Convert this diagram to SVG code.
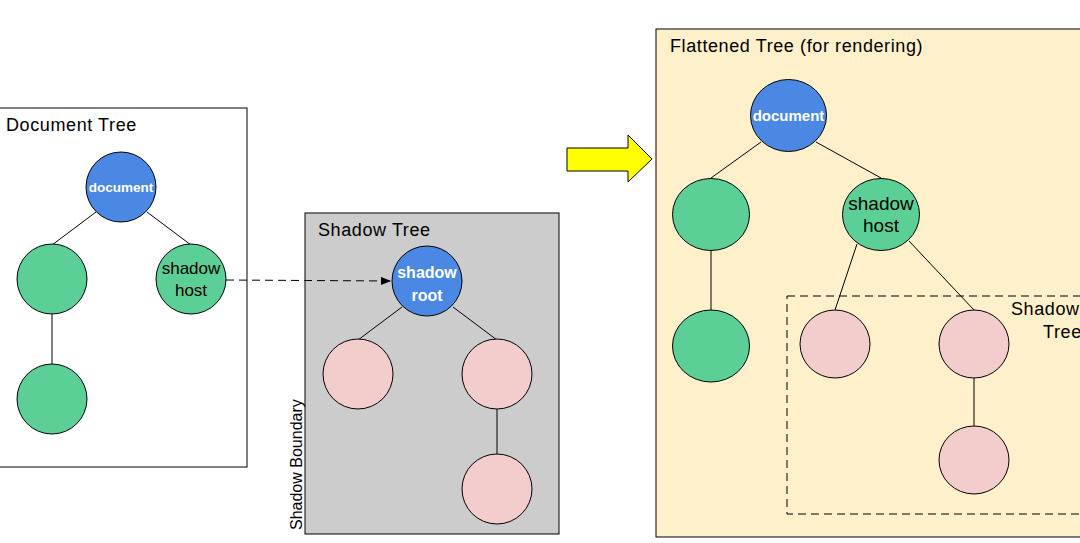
<svg xmlns="http://www.w3.org/2000/svg" width="1080" height="543" viewBox="0 0 1080 543">
<style>
text{font-family:"Liberation Sans",Arial,sans-serif;fill:#000}
.title{font-size:18px;letter-spacing:0.6px}
.lbl{font-size:17px;text-anchor:middle}
.lbl2{font-size:19px;text-anchor:middle}
.wlbl{font-size:13.5px;text-anchor:middle;fill:#fff;font-weight:bold}
.wlbl3{font-size:15px;text-anchor:middle;fill:#fff;font-weight:bold}
.wlbl2{font-size:16px;text-anchor:middle;fill:#fff;font-weight:bold}
.blue{fill:#4a88e4;stroke:#000;stroke-width:1}
.green{fill:#5ccf96;stroke:#000;stroke-width:1}
.pink{fill:#f3cccc;stroke:#000;stroke-width:1}
.edge{stroke:#000;stroke-width:1;fill:none}
</style>
<defs>
<marker id="ah" markerWidth="10" markerHeight="8" refX="10" refY="4" orient="auto" markerUnits="userSpaceOnUse">
<path d="M0,0 L10,4 L0,8 Z" fill="#000"/>
</marker>
</defs>
<g id="containers">
<rect x="-1" y="108" width="248" height="359" fill="#fff" stroke="#000"/>
<text class="title" x="6" y="131">Document Tree</text>
<rect x="305" y="213" width="254" height="321" fill="#cccccc" stroke="#000"/>
<text class="title" x="318" y="236">Shadow Tree</text>
<text x="302" y="530" font-size="16" transform="rotate(-90 302 530)">Shadow Boundary</text>
<rect x="656" y="29" width="440" height="508" fill="#fff0cc" stroke="#000"/>
<text class="title" x="670" y="52">Flattened Tree (for rendering)</text>
<rect x="787" y="296" width="310" height="218" fill="none" stroke="#000" stroke-dasharray="8,5"/>
<text class="title" x="1011" y="315">Shadow</text>
<text class="title" x="1043" y="338">Tree</text>
</g>
<g id="connectors">
<line class="edge" x1="96" y1="212" x2="52" y2="245"/>
<line class="edge" x1="147" y1="212" x2="191" y2="245"/>
<line class="edge" x1="52" y1="314" x2="52" y2="365"/>
<line class="edge" x1="402" y1="307" x2="358" y2="340"/>
<line class="edge" x1="453" y1="307" x2="497" y2="340"/>
<line class="edge" x1="497" y1="409" x2="497" y2="454"/>
<line class="edge" x1="226" y1="280" x2="391" y2="281" stroke-dasharray="8,5" marker-end="url(#ah)"/>
<line class="edge" x1="761" y1="142" x2="711" y2="178"/>
<line class="edge" x1="816" y1="142" x2="881" y2="178"/>
<line class="edge" x1="711" y1="251" x2="711" y2="310"/>
<line class="edge" x1="857" y1="244" x2="835" y2="310"/>
<line class="edge" x1="909" y1="241" x2="974" y2="310"/>
<line class="edge" x1="974" y1="378" x2="974" y2="426"/>
<path d="M567,148 L628,148 L628,135 L652,159 L628,182 L628,171 L567,171 Z" fill="#ffff00" stroke="#000" stroke-width="1"/>
</g>
<g id="doc-document"><circle class="blue" cx="121" cy="187" r="35"/><text class="wlbl" x="121" y="192">document</text></g>
<g id="doc-left"><circle class="green" cx="52" cy="279" r="35"/></g>
<g id="doc-host"><circle class="green" cx="191" cy="279" r="35"/><text class="lbl" x="191" y="274">shadow</text><text class="lbl" x="191" y="296">host</text></g>
<g id="doc-bottom"><circle class="green" cx="52" cy="399" r="35"/></g>
<g id="sh-root"><circle class="blue" cx="427" cy="281" r="35"/><text class="wlbl2" x="427" y="278">shadow</text><text class="wlbl2" x="427" y="301">root</text></g>
<g id="sh-left"><circle class="pink" cx="358" cy="374" r="35"/></g>
<g id="sh-right"><circle class="pink" cx="497" cy="374" r="35"/></g>
<g id="sh-bottom"><circle class="pink" cx="497" cy="489" r="35"/></g>
<g id="fl-document"><ellipse class="blue" cx="788.5" cy="115.5" rx="38" ry="36"/><text class="wlbl3" x="788.5" y="121">document</text></g>
<g id="fl-left"><ellipse class="green" cx="711" cy="214.5" rx="38.5" ry="36"/></g>
<g id="fl-host"><ellipse class="green" cx="881" cy="214.5" rx="38.5" ry="36"/><text class="lbl2" x="881" y="210">shadow</text><text class="lbl2" x="881" y="232">host</text></g>
<g id="fl-bottom"><ellipse class="green" cx="711" cy="346" rx="38.5" ry="36"/></g>
<g id="fl-pink1"><ellipse class="pink" cx="835" cy="344" rx="35" ry="34"/></g>
<g id="fl-pink2"><ellipse class="pink" cx="974" cy="344" rx="35" ry="34"/></g>
<g id="fl-pink3"><ellipse class="pink" cx="974" cy="460" rx="35" ry="34"/></g>
</svg>
